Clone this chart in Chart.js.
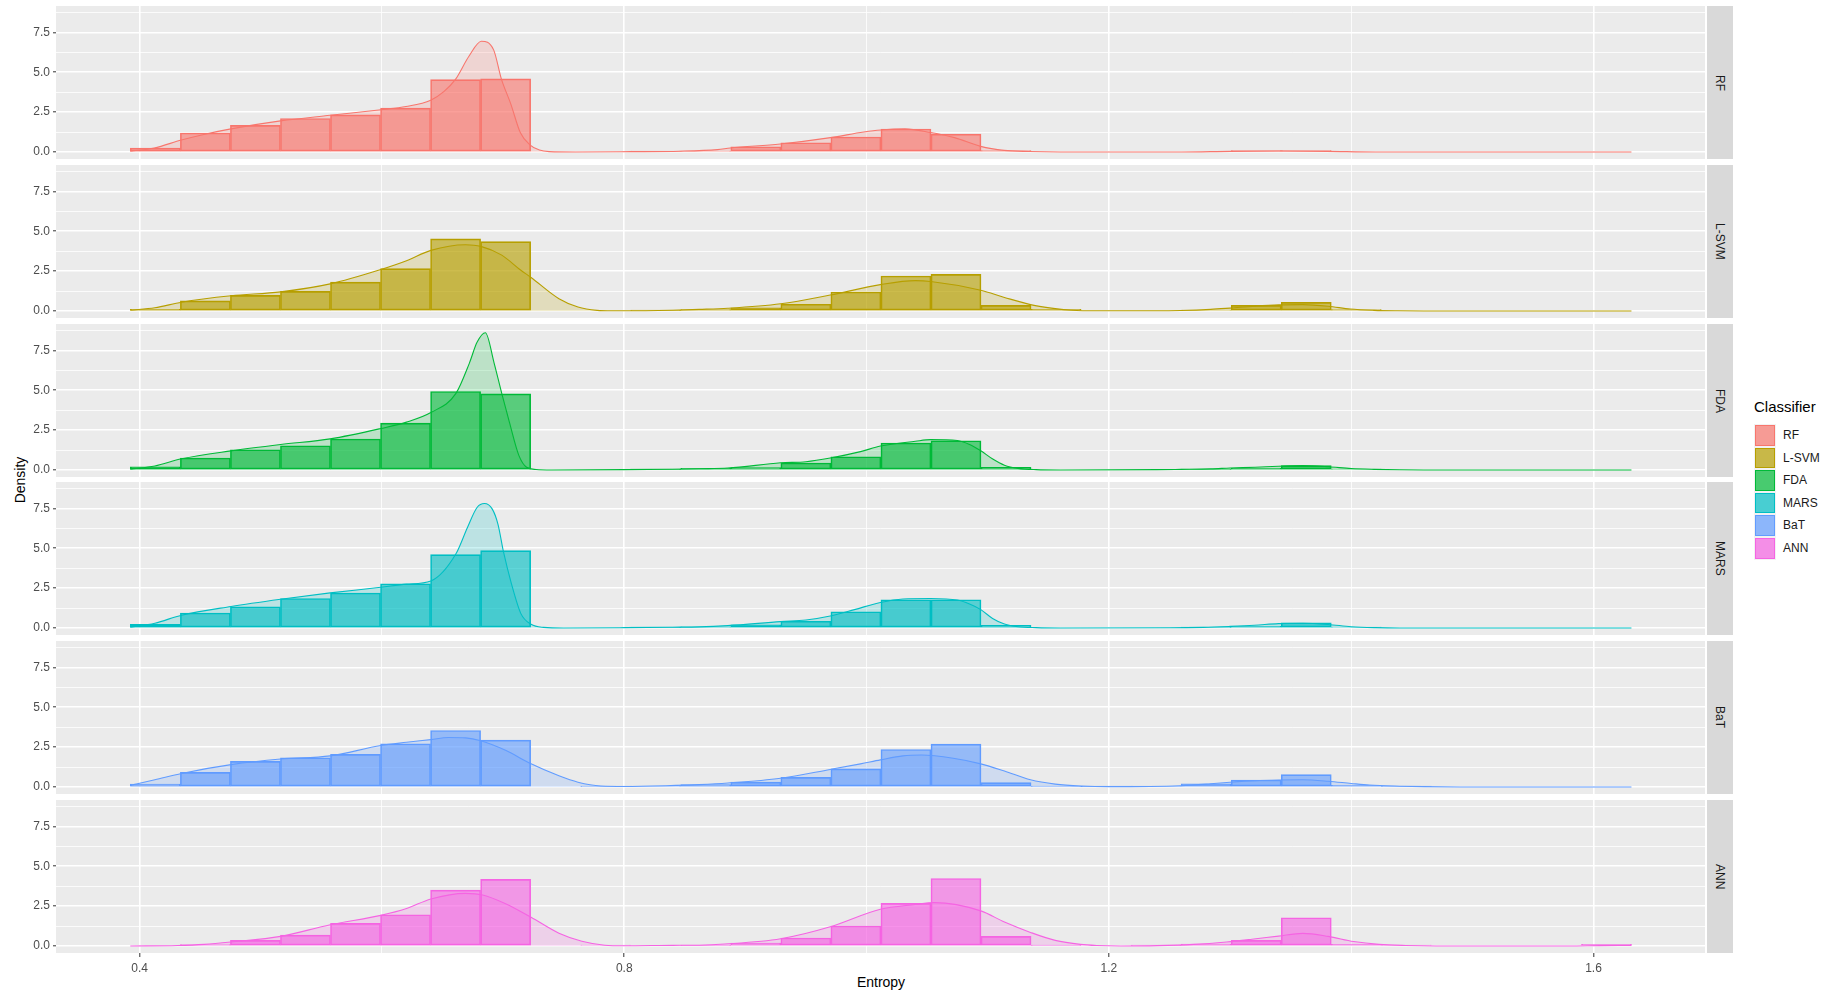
<!DOCTYPE html>
<html>
<head>
<meta charset="utf-8">
<title>Entropy density by classifier</title>
<script src="https://cdn.jsdelivr.net/npm/chart.js@4.4.1/dist/chart.umd.min.js"></script>
<style>
  html, body { margin: 0; padding: 0; background: #ffffff; width: 1838px; height: 995px; overflow: hidden;
    font-family: "Liberation Sans", Arial, Helvetica, sans-serif; }
  .panel { position: absolute; left: 0; }
  .panel canvas { display: block; }
  .strip { position: absolute; left: 1707px; width: 26px; background: #D9D9D9; color: #1A1A1A;
    font-size: 12px; display: flex; align-items: center; justify-content: center; }
  .strip span { writing-mode: vertical-rl; white-space: nowrap; }
  #ytitle { position: absolute; left: 20px; top: 480px; transform: translate(-50%, -50%) rotate(-90deg);
    font-size: 14px; color: #000; white-space: nowrap; }
  #xtitle { position: absolute; left: 881px; top: 982px; transform: translate(-50%, -50%);
    font-size: 14px; color: #000; white-space: nowrap; }
  #legend { position: absolute; left: 1754px; top: 398px; }
  #legend .ltitle { font-size: 15px; color: #000; height: 26px; line-height: 18px; }
  #legend .row { position: relative; height: 22.6px; }
  #legend .key { position: absolute; left: 0; top: 0; width: 22px; height: 22.6px; background: #F2F2F2; }
  #legend .key div { position: absolute; left: 1px; top: 1px; right: 1px; bottom: 1px; box-sizing: border-box; }
  #legend .lab { position: absolute; left: 29px; top: 0; line-height: 22.6px; font-size: 12px; color: #1A1A1A; white-space: nowrap; }
</style>
</head>
<body>
<div id="ytitle">Density</div>
<div id="xtitle">Entropy</div>
<div id="legend"><div class="ltitle">Classifier</div></div>

<script>
// ---- data -------------------------------------------------------------
const classifiers = ['RF', 'L-SVM', 'FDA', 'MARS', 'BaT', 'ANN'];
const classColors = ['#F8766D', '#B79F00', '#00BA38', '#00BFC4', '#619CFF', '#F564E3'];

// histogram bin centres (30 bins over the entropy range)
const binCenters = [0.4130, 0.4543, 0.4956, 0.5369, 0.5782, 0.6195, 0.6608, 0.7021, 0.7434, 0.7847,
                    0.8260, 0.8673, 0.9086, 0.9499, 0.9912, 1.0325, 1.0738, 1.1151, 1.1564, 1.1977,
                    1.2390, 1.2803, 1.3216, 1.3629, 1.4042, 1.4455, 1.4868, 1.5281, 1.5694, 1.6107];

// histogram densities per classifier
const rfHist   = [0.25, 1.19, 1.67, 2.10, 2.33, 2.75, 4.54, 4.58, 0, 0,
                  0.06, 0.06, 0.33, 0.58, 0.94, 1.44, 1.12, 0.08, 0, 0,
                  0, 0, 0.08, 0.08, 0, 0, 0, 0, 0, 0];
const lsvmHist = [0.10, 0.63, 0.98, 1.23, 1.81, 2.65, 4.52, 4.35, 0, 0,
                  0.03, 0.08, 0.20, 0.42, 1.19, 2.19, 2.29, 0.35, 0.10, 0,
                  0, 0.05, 0.35, 0.54, 0.08, 0, 0, 0, 0, 0];
const fdaHist  = [0.20, 0.75, 1.27, 1.52, 1.94, 2.94, 4.92, 4.77, 0, 0,
                  0.03, 0.10, 0.15, 0.44, 0.83, 1.69, 1.83, 0.17, 0, 0,
                  0, 0.04, 0.10, 0.27, 0.06, 0, 0, 0, 0, 0];
const marsHist = [0.23, 0.94, 1.33, 1.85, 2.19, 2.77, 4.60, 4.85, 0, 0,
                  0.03, 0.07, 0.20, 0.42, 1.02, 1.77, 1.77, 0.17, 0, 0,
                  0, 0.03, 0.10, 0.33, 0.05, 0, 0, 0, 0, 0];
const batHist  = [0.18, 0.92, 1.60, 1.83, 2.04, 2.71, 3.54, 2.94, 0, 0.03,
                  0.06, 0.15, 0.30, 0.60, 1.13, 2.35, 2.69, 0.27, 0.04, 0.02,
                  0.06, 0.19, 0.44, 0.77, 0.10, 0.04, 0, 0, 0, 0];
const annHist  = [0, 0.08, 0.35, 0.68, 1.42, 1.96, 3.50, 4.17, 0, 0.05,
                  0, 0.04, 0.18, 0.50, 1.25, 2.67, 4.23, 0.60, 0.04, 0,
                  0.03, 0.12, 0.35, 1.77, 0.10, 0.05, 0, 0, 0, 0.10];

// kernel density estimates per classifier (entropy, density)
const rfDensX = [0.3923, 0.412, 0.4345, 0.453, 0.4754, 0.5163, 0.5572, 0.5991, 0.6199, 0.6403, 0.6513, 0.6607,
                 0.6718, 0.6821, 0.6922, 0.6985, 0.7064, 0.7143, 0.7221, 0.730, 0.738, 0.76, 0.805, 0.846, 0.877,
                 0.8875, 0.9287, 0.9703, 0.9976, 1.0116, 1.0317, 1.0529, 1.0726, 1.0941, 1.1135, 1.134, 1.16,
                 1.26, 1.30, 1.34, 1.38, 1.42, 1.6313];
const rfDensY = [0.05, 0.25, 0.75, 1.1, 1.45, 1.95, 2.3, 2.65, 2.85, 3.25, 3.8, 4.55,
                 6.0, 6.94, 6.4, 4.6, 3.0, 1.2, 0.45, 0.12, 0.02, 0, 0.02, 0.05, 0.15,
                 0.25, 0.5, 0.9, 1.25, 1.38, 1.45, 1.22, 0.9, 0.35, 0.1, 0.03, 0,
                 0, 0.04, 0.06, 0.04, 0, 0];

const lsvmDensX = [0.3923, 0.4126, 0.4346, 0.4755, 0.5164, 0.5573, 0.5991, 0.6203, 0.6404, 0.669, 0.6816, 0.6989,
                   0.7147, 0.7231, 0.7461, 0.7618, 0.7776, 0.79, 0.80, 0.84, 0.8619, 0.8855, 0.9291, 0.97, 1.0114,
                   1.0403, 1.0529, 1.0943, 1.1138, 1.1353, 1.1557, 1.1689, 1.19, 1.24, 1.2593, 1.284, 1.2997,
                   1.3207, 1.3401, 1.36, 1.381, 1.3993, 1.4187, 1.4386, 1.46, 1.6313];
const lsvmDensY = [0.05, 0.2, 0.55, 0.95, 1.2, 1.7, 2.6, 3.15, 3.8, 4.15, 4.05, 3.5,
                   2.55, 2.1, 0.77, 0.25, 0.04, 0.01, 0.01, 0.05, 0.1, 0.17, 0.45, 1.0, 1.65,
                   1.9, 1.85, 1.3, 0.85, 0.4, 0.15, 0.05, 0.01, 0.01, 0.03, 0.1, 0.18,
                   0.3, 0.38, 0.4, 0.3, 0.12, 0.04, 0.01, 0, 0];

const fdaDensX = [0.3923, 0.4126, 0.4346, 0.4755, 0.5164, 0.5573, 0.5991, 0.6203, 0.6404, 0.6611, 0.6722, 0.6785,
                  0.6854, 0.6926, 0.6989, 0.7052, 0.7131, 0.7194, 0.7272, 0.74, 0.80, 0.84, 0.8619, 0.8855, 0.9291,
                  0.95, 0.97, 0.995, 1.0114, 1.0403, 1.0529, 1.075, 1.085, 1.0943, 1.1038, 1.1138, 1.125, 1.14,
                  1.16, 1.24, 1.2593, 1.284, 1.30, 1.3207, 1.34, 1.36, 1.381, 1.40, 1.4187, 1.44, 1.46, 1.6313];
const fdaDensY = [0.05, 0.25, 0.7, 1.2, 1.6, 1.95, 2.6, 3.0, 3.6, 4.8, 6.7, 8.0,
                  8.6, 6.7, 4.8, 3.0, 0.9, 0.17, 0.03, 0, 0.02, 0.05, 0.08, 0.12, 0.45,
                  0.52, 0.75, 1.15, 1.5, 1.8, 1.9, 1.85, 1.6, 1.2, 0.7, 0.3, 0.1, 0.02,
                  0, 0.02, 0.04, 0.07, 0.12, 0.17, 0.23, 0.27, 0.2, 0.09, 0.04, 0.01, 0, 0];

const marsDensX = [0.3923, 0.4126, 0.4346, 0.4755, 0.5164, 0.5573, 0.5991, 0.6203, 0.6404, 0.6611, 0.6706, 0.6785,
                   0.6846, 0.6911, 0.6958, 0.7004, 0.7068, 0.7147, 0.7231, 0.7335, 0.75, 0.80, 0.84, 0.8619, 0.8855,
                   0.9291, 0.95, 0.97, 0.99, 1.0114, 1.03, 1.0529, 1.075, 1.085, 1.0943, 1.104, 1.1138, 1.125,
                   1.14, 1.16, 1.25, 1.278, 1.30, 1.32, 1.34, 1.36, 1.381, 1.40, 1.42, 1.44, 1.6313];
const marsDensY = [0.05, 0.3, 0.8, 1.35, 1.8, 2.2, 2.55, 2.75, 2.95, 4.65, 6.3, 7.55,
                   7.8, 7.45, 6.5, 4.75, 2.8, 0.9, 0.23, 0.04, 0, 0.02, 0.05, 0.07, 0.15,
                   0.4, 0.5, 0.75, 1.15, 1.6, 1.82, 1.85, 1.75, 1.5, 1.15, 0.6, 0.25, 0.08,
                   0.02, 0, 0.01, 0.04, 0.1, 0.17, 0.27, 0.3, 0.22, 0.08, 0.02, 0, 0];

const batDensX = [0.3923, 0.4126, 0.4346, 0.4755, 0.5164, 0.5573, 0.5991, 0.6203, 0.6404, 0.6549, 0.669, 0.6816,
                  0.702, 0.7231, 0.7461, 0.7618, 0.7807, 0.80, 0.8427, 0.8619, 0.8855, 0.9291, 0.97, 0.995,
                  1.0114, 1.03, 1.0454, 1.0715, 1.0943, 1.1138, 1.1353, 1.1557, 1.177, 1.20, 1.2593, 1.284,
                  1.30, 1.3207, 1.3401, 1.36, 1.381, 1.40, 1.415, 1.44, 1.46, 1.49, 1.6313];
const batDensY = [0.1, 0.45, 0.85, 1.4, 1.75, 1.95, 2.6, 2.8, 2.97, 3.1, 3.08, 2.9,
                  2.3, 1.45, 0.7, 0.3, 0.06, 0.03, 0.1, 0.15, 0.25, 0.55, 1.1, 1.45,
                  1.7, 1.95, 2.0, 1.8, 1.45, 1.0, 0.45, 0.18, 0.06, 0.02, 0.08, 0.2,
                  0.3, 0.4, 0.44, 0.45, 0.36, 0.22, 0.12, 0.05, 0.02, 0, 0];

const annDensX = [0.3923, 0.4314, 0.4534, 0.4755, 0.5164, 0.5573, 0.5991, 0.6203, 0.6404, 0.669, 0.6832, 0.7021,
                  0.7231, 0.7461, 0.765, 0.7839, 0.80, 0.84, 0.8619, 0.8828, 0.9291, 0.97, 1.0114, 1.04,
                  1.0559, 1.0943, 1.1138, 1.1353, 1.1557, 1.1765, 1.19, 1.21, 1.24, 1.27, 1.297, 1.318,
                  1.34, 1.36, 1.381, 1.402, 1.423, 1.445, 1.47, 1.58, 1.605, 1.6313];
const annDensY = [0, 0.03, 0.1, 0.25, 0.6, 1.33, 1.92, 2.35, 2.95, 3.3, 3.2, 2.65,
                  1.8, 0.8, 0.3, 0.05, 0.01, 0.04, 0.05, 0.12, 0.45, 1.2, 2.3, 2.6,
                  2.72, 2.2, 1.5, 0.85, 0.35, 0.1, 0.03, 0, 0.02, 0.1, 0.25, 0.42,
                  0.62, 0.79, 0.6, 0.28, 0.1, 0.03, 0, 0, 0.02, 0.03];

// axis ticks
const xGridValues = [0.4, 0.6, 0.8, 1.0, 1.2, 1.4, 1.6];
const xTickValues = [0.4, 0.8, 1.2, 1.6];
const xTickLabels = ['0.4', '0.8', '1.2', '1.6'];
const yGridValues = [0, 1.25, 2.5, 3.75, 5, 6.25, 7.5, 8.75];
const yTickValues = [0, 2.5, 5, 7.5];
const yTickLabels = ['0.0', '2.5', '5.0', '7.5'];

const histSeries = [rfHist, lsvmHist, fdaHist, marsHist, batHist, annHist];
const densXSeries = [rfDensX, lsvmDensX, fdaDensX, marsDensX, batDensX, annDensX];
const densYSeries = [rfDensY, lsvmDensY, fdaDensY, marsDensY, batDensY, annDensY];

// ---- layout -----------------------------------------------------------
const FONT = '"Liberation Sans", Arial, Helvetica, sans-serif';
const PANEL_W = 1705;       // canvas width: y-axis gutter + plotting area
const Y_GUTTER = 56;
const PANEL_H = 153;
const X_AXIS_H = 40;
const panelTops = [6, 165, 324, 482, 641, 800];
const X_MIN = 0.331, X_MAX = 1.692;
const Y_MIN = -0.44, Y_MAX = 9.15;

function rgba(hex, a) {
  const n = parseInt(hex.slice(1), 16);
  return `rgba(${(n >> 16) & 255},${(n >> 8) & 255},${n & 255},${a})`;
}
const near = (v, list) => list.findIndex(t => Math.abs(t - v) < 1e-6);
const isMajor = (c, list) => !!(c && c.tick) && near(c.tick.value, list) >= 0;

// grey panel background behind the grid
const panelBackground = {
  id: 'panelBackground',
  beforeDraw(chart) {
    const { ctx, chartArea: a } = chart;
    ctx.save();
    ctx.fillStyle = '#EBEBEB';
    ctx.fillRect(a.left, a.top, a.right - a.left, a.bottom - a.top);
    ctx.restore();
  }
};

function makePanel(i) {
  const isBottom = i === classifiers.length - 1;
  const color = classColors[i];
  const height = PANEL_H + (isBottom ? X_AXIS_H : 0);

  const wrap = document.createElement('div');
  wrap.className = 'panel';
  wrap.style.top = panelTops[i] + 'px';
  wrap.style.width = PANEL_W + 'px';
  wrap.style.height = height + 'px';
  const canvas = document.createElement('canvas');
  canvas.width = PANEL_W;
  canvas.height = height;
  canvas.style.width = PANEL_W + 'px';
  canvas.style.height = height + 'px';
  wrap.appendChild(canvas);
  document.body.appendChild(wrap);

  const strip = document.createElement('div');
  strip.className = 'strip';
  strip.style.top = panelTops[i] + 'px';
  strip.style.height = PANEL_H + 'px';
  const sl = document.createElement('span');
  sl.textContent = classifiers[i];
  strip.appendChild(sl);
  document.body.appendChild(strip);

  const hist = histSeries[i];
  const dx = densXSeries[i], dy = densYSeries[i];

  new Chart(canvas, {
    type: 'bar',
    data: {
      datasets: [
        {
          type: 'line',
          label: classifiers[i] + ' density',
          data: dx.map((x, k) => ({ x, y: dy[k] })),
          borderColor: color,
          borderWidth: 1.1,
          backgroundColor: rgba(color, 0.2),
          fill: 'origin',
          pointRadius: 0,
          cubicInterpolationMode: 'monotone',
          order: 0
        },
        {
          type: 'bar',
          label: classifiers[i],
          data: binCenters.map((x, k) => ({ x, y: hist[k] })),
          backgroundColor: rgba(color, 0.62),
          borderColor: color,
          borderWidth: 1,
          borderSkipped: false,
          barPercentage: 1,
          categoryPercentage: 1,
          order: 1
        }
      ]
    },
    options: {
      responsive: false,
      animation: false,
      devicePixelRatio: 1,
      layout: { padding: 0 },
      plugins: { legend: { display: false }, tooltip: { enabled: false } },
      scales: {
        x: {
          type: 'linear',
          min: X_MIN,
          max: X_MAX,
          offset: false,
          afterBuildTicks: s => { s.ticks = xGridValues.map(v => ({ value: v })); },
          afterFit: s => {
            s.height = isBottom ? X_AXIS_H : 0;
            s.paddingLeft = 0; s.paddingRight = 0;
          },
          border: { display: false },
          grid: {
            offset: false,
            color: '#FFFFFF',
            lineWidth: c => (isMajor(c, xTickValues) ? 1.6 : 0.8),
            drawTicks: isBottom,
            tickLength: 4,
            tickWidth: 1,
            tickColor: c => (isMajor(c, xTickValues) ? '#333333' : 'rgba(0,0,0,0)')
          },
          ticks: {
            display: isBottom,
            autoSkip: false,
            maxRotation: 0,
            padding: 4,
            color: '#4D4D4D',
            font: { family: FONT, size: 12 },
            callback: v => { const j = near(v, xTickValues); return j >= 0 ? xTickLabels[j] : ''; }
          }
        },
        y: {
          min: Y_MIN,
          max: Y_MAX,
          afterBuildTicks: s => { s.ticks = yGridValues.map(v => ({ value: v })); },
          afterFit: s => { s.width = Y_GUTTER; s.paddingTop = 0; s.paddingBottom = 0; },
          border: { display: false },
          grid: {
            offset: false,
            color: '#FFFFFF',
            lineWidth: c => (isMajor(c, yTickValues) ? 1.6 : 0.8),
            drawTicks: true,
            tickLength: 3,
            tickWidth: 1,
            tickColor: c => (isMajor(c, yTickValues) ? '#333333' : 'rgba(0,0,0,0)')
          },
          ticks: {
            autoSkip: false,
            padding: 3,
            color: '#4D4D4D',
            font: { family: FONT, size: 12 },
            callback: v => { const j = near(v, yTickValues); return j >= 0 ? yTickLabels[j] : ''; }
          }
        }
      }
    },
    plugins: [panelBackground]
  });
}

classifiers.forEach((_, i) => makePanel(i));

// legend
const legend = document.getElementById('legend');
classifiers.forEach((name, i) => {
  const row = document.createElement('div');
  row.className = 'row';
  const key = document.createElement('div');
  key.className = 'key';
  const sw = document.createElement('div');
  sw.style.background = rgba(classColors[i], 0.7);
  sw.style.border = '1px solid ' + classColors[i];
  key.appendChild(sw);
  const lab = document.createElement('div');
  lab.className = 'lab';
  lab.textContent = name;
  row.appendChild(key);
  row.appendChild(lab);
  legend.appendChild(row);
});
</script>
</body>
</html>
